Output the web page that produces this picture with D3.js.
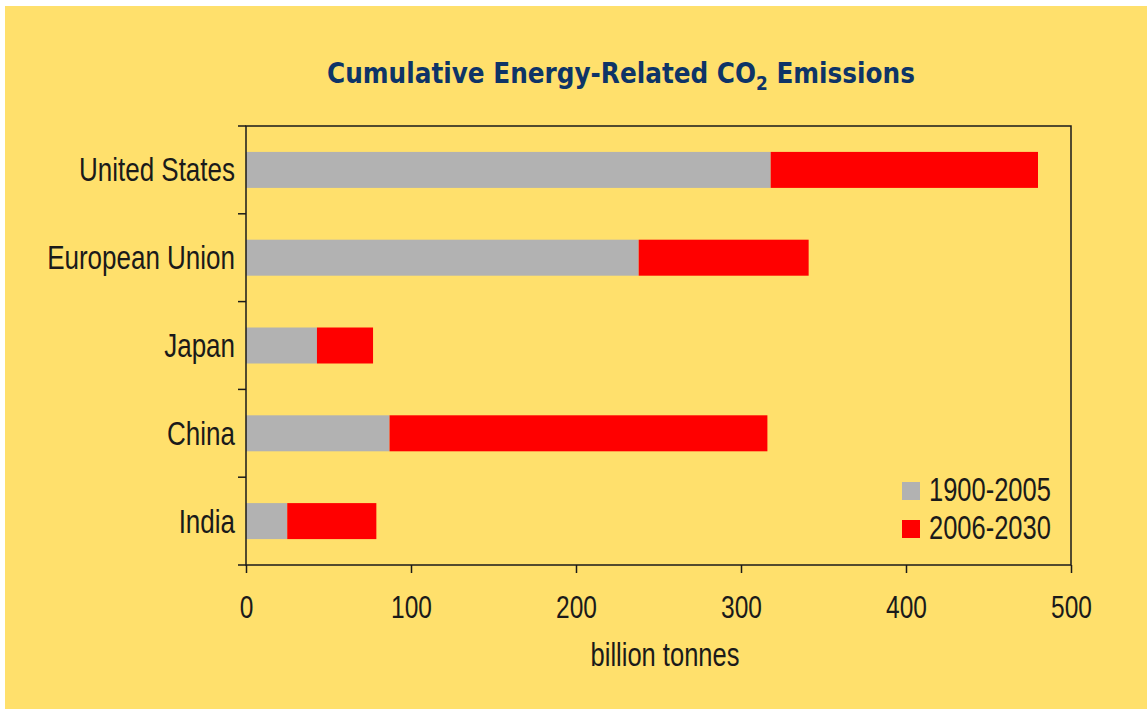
<!DOCTYPE html>
<html>
<head>
<meta charset="utf-8">
<script src="https://cdn.jsdelivr.net/npm/d3@7"></script>
<style>
  html, body { margin: 0; padding: 0; background: #fff; }
  svg { display: block; }
</style>
</head>
<body>
<div id="chart"></div>
<script>
// data
const categories = ["United States", "European Union", "Japan", "China", "India"];
const hist = [318, 238, 43, 87, 25];      // 1900-2005
const proj = [162, 103, 34, 229, 54];     // 2006-2030
const seriesNames = ["1900-2005", "2006-2030"];
const xTicks = [0, 100, 200, 300, 400, 500];

const width = 1147, height = 709;
const margin = { top: 126, right: 76, bottom: 144, left: 246 };
const colors = ["#b2b2b2", "#ff0000"];
const stretch = 1.3; // text in the original is drawn taller than wide

const rows = categories.map((c, i) => ({ name: c, a: hist[i], b: proj[i] }));
const stacked = d3.stack().keys(["a", "b"])(rows);

const svg = d3.select("#chart").append("svg")
  .attr("width", width)
  .attr("height", height);

svg.append("rect")
  .attr("x", 5).attr("y", 6)
  .attr("width", width - 5).attr("height", height - 6)
  .attr("fill", "#ffe06c");

const x = d3.scaleLinear()
  .domain([0, 500])
  .range([margin.left, width - margin.right]);

const y = d3.scaleBand()
  .domain(categories)
  .range([margin.top, height - margin.bottom])
  .paddingInner(0.59)
  .paddingOuter(0.295);

// bars
svg.append("g")
  .selectAll("g")
  .data(stacked)
  .join("g")
  .attr("fill", (d, i) => colors[i])
  .selectAll("rect")
  .data(d => d)
  .join("rect")
  .attr("x", d => x(d[0]))
  .attr("y", d => y(d.data.name))
  .attr("width", d => x(d[1]) - x(d[0]))
  .attr("height", y.bandwidth());

// frame
svg.append("rect")
  .attr("x", x(0)).attr("y", margin.top)
  .attr("width", x(500) - x(0))
  .attr("height", height - margin.bottom - margin.top)
  .attr("fill", "none")
  .attr("stroke", "#1a1a1a")
  .attr("stroke-width", 1.5);

// x axis
const xAxis = svg.append("g")
  .attr("transform", `translate(0,${height - margin.bottom})`)
  .call(d3.axisBottom(x).tickValues(xTicks).tickSize(8).tickFormat(d3.format("d")));
xAxis.select(".domain").remove();
xAxis.selectAll("line").attr("stroke", "#1a1a1a").attr("stroke-width", 1.5);
xAxis.selectAll("text")
  .attr("y", 0).attr("dy", null)
  .attr("transform", `translate(0,53) scale(1,${stretch})`)
  .attr("fill", "#1a1a1a")
  .style("font", "24.5px 'Liberation Sans', Arial, sans-serif");

// y axis: ticks sit on category boundaries
const bounds = d3.range(categories.length + 1).map(i => margin.top + i * y.step());
svg.append("g")
  .selectAll("line")
  .data(bounds)
  .join("line")
  .attr("x1", x(0) - 8).attr("x2", x(0))
  .attr("y1", d => d).attr("y2", d => d)
  .attr("stroke", "#1a1a1a")
  .attr("stroke-width", 1.5);

svg.append("g")
  .selectAll("text")
  .data(categories)
  .join("text")
  .attr("transform", d => `translate(${x(0) - 11},${y(d) + y.bandwidth() / 2 + 11.5}) scale(1,${stretch})`)
  .attr("text-anchor", "end")
  .attr("fill", "#1a1a1a")
  .style("font", "26px 'Liberation Sans', Arial, sans-serif")
  .text(d => d);

// axis title
svg.append("text")
  .attr("transform", `translate(665,666) scale(1,${stretch})`)
  .attr("text-anchor", "middle")
  .attr("fill", "#1a1a1a")
  .style("font", "25.5px 'Liberation Sans', Arial, sans-serif")
  .text("billion tonnes");

// legend
const legend = svg.append("g")
  .selectAll("g")
  .data(seriesNames)
  .join("g")
  .attr("transform", (d, i) => `translate(902,${482 + i * 38})`);
legend.append("rect")
  .attr("width", 18).attr("height", 18)
  .attr("fill", (d, i) => colors[i]);
legend.append("text")
  .attr("transform", `translate(27,19) scale(1,${stretch})`)
  .attr("fill", "#1a1a1a")
  .style("font", "25.5px 'Liberation Sans', Arial, sans-serif")
  .text(d => d);

// title
const title = svg.append("text")
  .attr("fill", "#0e3467")
  .style("font", "bold 22px 'DejaVu Sans', Verdana, sans-serif");
title.append("tspan").text("Cumulative Energy-Related CO");
title.append("tspan").attr("dy", 5).style("font-size", "15px").text("2");
title.append("tspan").attr("dy", -5).text(" Emissions");
const tw = title.node().getBBox().width;
title.attr("transform", `translate(327,83) scale(${588 / tw},${1.31})`);
</script>
</body>
</html>
